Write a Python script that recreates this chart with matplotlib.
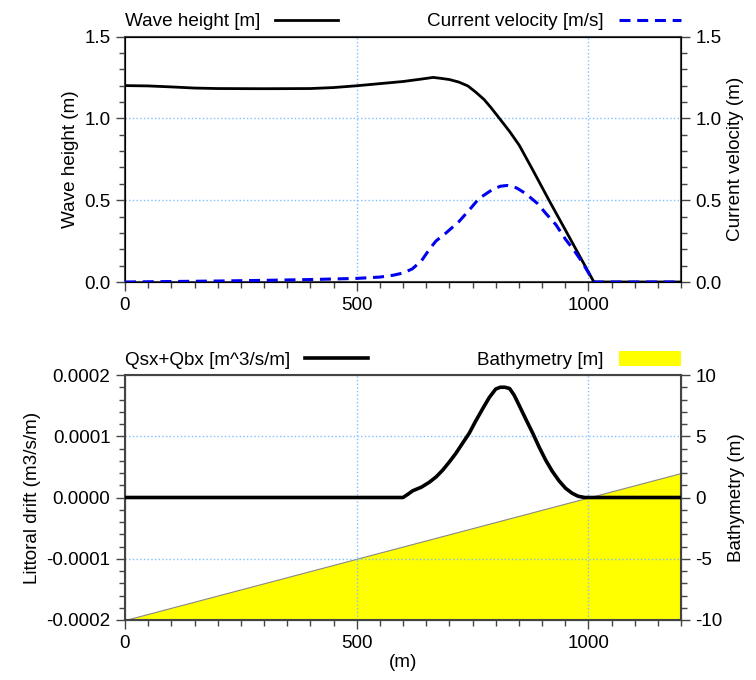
import matplotlib
matplotlib.use("Agg")
import matplotlib.pyplot as plt
from matplotlib.ticker import MultipleLocator
from matplotlib.lines import Line2D
from matplotlib.patches import Patch

plt.rcParams['font.family'] = ['Liberation Sans', 'DejaVu Sans']
plt.rcParams['font.size'] = 13.6
plt.rcParams['axes.unicode_minus'] = False

# wave height along the profile
xh = [0, 50, 100, 150, 200, 300, 400, 450, 500, 550, 600, 640, 665, 680, 700, 720,
      740, 757, 775, 790, 808, 830, 851, 880, 915, 950, 980, 1012, 1100, 1200]
height = [1.200, 1.198, 1.192, 1.185, 1.182, 1.181, 1.182, 1.188, 1.199, 1.212, 1.225,
          1.240, 1.250, 1.245, 1.237, 1.222, 1.198, 1.160, 1.115, 1.065, 1.000, 0.920,
          0.835, 0.685, 0.50, 0.32, 0.165, 0.0, 0.0, 0.0]

# longshore current velocity
xv = [0, 100, 200, 300, 400, 500, 550, 580, 600, 620, 640, 657, 671, 693, 721, 743,
      764, 793, 810, 825, 845, 865, 890, 908, 930, 951, 970, 987, 1012, 1200]
velocity = [0.0, 0.003, 0.006, 0.010, 0.015, 0.022, 0.030, 0.042, 0.055, 0.08, 0.13,
            0.20, 0.25, 0.30, 0.37, 0.44, 0.51, 0.565, 0.585, 0.59, 0.575, 0.54, 0.48,
            0.42, 0.35, 0.26, 0.19, 0.12, 0.0, 0.0]

# littoral drift (units of 1e-4 m3/s/m)
xq = [0, 600, 610, 621, 640, 657, 672, 686, 700, 714, 728, 743, 757, 772, 786, 800,
      810, 820, 830, 840, 851, 865, 880, 894, 908, 922, 937, 951, 965, 978, 992, 1200]
drift = [0, 0, 0.05, 0.11, 0.17, 0.25, 0.34, 0.45, 0.58, 0.72, 0.88, 1.05, 1.25, 1.45,
         1.63, 1.77, 1.80, 1.80, 1.78, 1.67, 1.50, 1.28, 1.05, 0.82, 0.61, 0.43, 0.27,
         0.15, 0.07, 0.02, 0.0, 0.0]
drift = [d * 1e-4 for d in drift]

# bathymetry
xb = [0, 1200]
depth = [-10, 2]

W, H = 756, 680
fig = plt.figure(figsize=(W / 100, H / 100), dpi=100)

grid_kw = dict(color='#7fbfff', linestyle=':', linewidth=1.0)
spine_c = '#444444'
blue = '#0000ee'
vel_dash = (3.6, 2.2)


def style(ax, minor_y):
    ax.set_xlim(0, 1200)
    ax.xaxis.set_major_locator(MultipleLocator(500))
    ax.xaxis.set_minor_locator(MultipleLocator(50))
    ax.yaxis.set_minor_locator(MultipleLocator(minor_y))
    ax.tick_params(which='major', length=6.5, width=1.0, color=spine_c, pad=4)
    ax.tick_params(which='minor', length=4, width=1.0, color=spine_c)
    for s in ax.spines.values():
        s.set_color(spine_c)
        s.set_linewidth(1.5)


def style_right(ax, minor_y):
    ax.yaxis.set_minor_locator(MultipleLocator(minor_y))
    ax.tick_params(which='major', length=6.5, width=1.0, color=spine_c, pad=4)
    ax.tick_params(which='minor', length=4, width=1.0, color=spine_c)


leg_kw = dict(frameon=False, markerfirst=False, handlelength=3.3, handletextpad=0.8,
              borderaxespad=0.0, borderpad=0.0, fontsize=13.6)

# ---- top panel ----
ax1 = fig.add_axes([125 / W, 1 - 282 / H, 556 / W, 245.5 / H])
ax1r = ax1.twinx()
style(ax1, 0.1)
style_right(ax1r, 0.1)
ax1.set_ylim(0, 1.5)
ax1r.set_ylim(0, 1.5)
ax1.yaxis.set_major_locator(MultipleLocator(0.5))
ax1r.yaxis.set_major_locator(MultipleLocator(0.5))
ax1.set_yticklabels([f"{v:.1f}" for v in ax1.get_yticks()])
ax1r.set_yticklabels([f"{v:.1f}" for v in ax1r.get_yticks()])
for xg in [500, 1000]:
    ax1.axvline(xg, **grid_kw, zorder=0)
for yg in [0.5, 1.0]:
    ax1.axhline(yg, **grid_kw, zorder=0)
ax1.plot(xh, height, color='black', lw=2.0, zorder=3)
ax1r.plot(xv, velocity, color=blue, lw=2.2, dashes=vel_dash, zorder=3)
ax1.set_ylabel("Wave height (m)")
ax1r.set_ylabel("Current velocity (m)")

ax1.legend(handles=[Line2D([], [], color='black', lw=2.0, label='Wave height [m]')],
           loc='lower left', bbox_to_anchor=(0.0, 1.025), **leg_kw)
ax1r.legend(handles=[Line2D([], [], color=blue, lw=2.2, dashes=vel_dash,
                            label='Current velocity [m/s]')],
            loc='lower right', bbox_to_anchor=(1.0, 1.025), **leg_kw)

# ---- bottom panel ----
ax2 = fig.add_axes([125 / W, 1 - 620 / H, 556 / W, 245 / H])
ax2r = ax2.twinx()
ax2.set_zorder(ax2r.get_zorder() + 1)
ax2.patch.set_visible(False)
style(ax2, 0.00002)
style_right(ax2r, 1)
ax2.set_ylim(-0.0002, 0.0002)
ax2r.set_ylim(-10, 10)
ax2.yaxis.set_major_locator(MultipleLocator(0.0001))
ax2r.yaxis.set_major_locator(MultipleLocator(5))
ax2.set_yticklabels([f"{v:.4f}" for v in ax2.get_yticks()])
ax2r.fill_between(xb, depth, -10, color='yellow', edgecolor='#888888', lw=0.8, zorder=1)
for xg in [500, 1000]:
    ax2.axvline(xg, **grid_kw, zorder=0)
for yg in [0.0001, -0.0001]:
    ax2.axhline(yg, **grid_kw, zorder=0)
ax2.plot(xq, drift, color='black', lw=2.6, zorder=3)
ax2.set_ylabel("Littoral drift (m3/s/m)")
ax2r.set_ylabel("Bathymetry (m)")
ax2.set_xlabel("(m)", labelpad=2)

ax2.legend(handles=[Line2D([], [], color='black', lw=2.6, label='Qsx+Qbx [m^3/s/m]')],
           loc='lower left', bbox_to_anchor=(0.0, 1.025), **leg_kw)
ax2r.legend(handles=[Patch(facecolor='yellow', edgecolor='none', label='Bathymetry [m]')],
            loc='lower right', bbox_to_anchor=(1.0, 1.025), handleheight=0.8, **leg_kw)

fig.savefig("out.png", dpi=100)
